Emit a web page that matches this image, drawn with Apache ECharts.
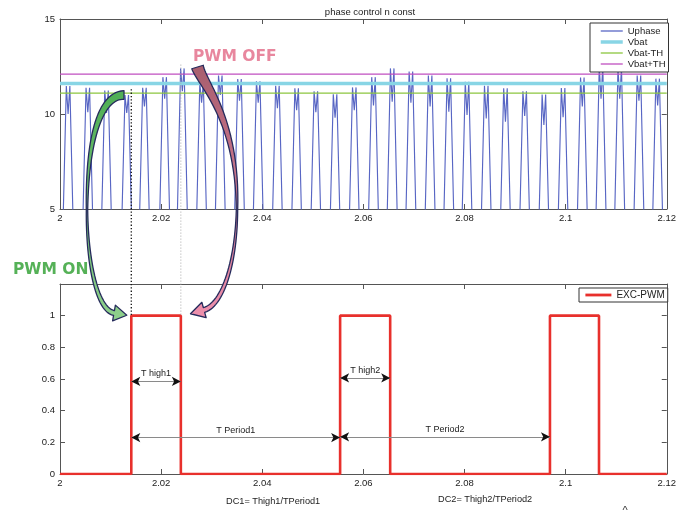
<!DOCTYPE html>
<html>
<head>
<meta charset="utf-8">
<script src="https://cdn.jsdelivr.net/npm/echarts@6/dist/echarts.min.js"></script>
<style>
  html, body { margin: 0; padding: 0; background: #fff; }
  #chart { width: 679px; height: 512px; }
</style>
</head>
<body>
<div id="chart"></div>
<script>
// ---- Phase voltage (Uphase): one double-humped pulse per commutation ----
const uCenter = [2.0016, 2.0055, 2.0092, 2.0132, 2.0167, 2.0207, 2.0242, 2.0280,
                 2.0317, 2.0355, 2.0392, 2.0430, 2.0468, 2.0506, 2.0544, 2.0582,
                 2.0620, 2.0657, 2.0694, 2.0732, 2.0769, 2.0805, 2.0843, 2.0881,
                 2.0919, 2.0957, 2.0995, 2.1033, 2.1070, 2.1107, 2.1145, 2.1182];
const uPeak   = [11.47, 11.38, 11.23, 11.00, 11.38, 11.94, 12.40, 11.63,
                 12.03, 11.84, 11.72, 11.49, 11.35, 11.20, 11.04, 11.40,
                 11.94, 12.40, 12.24, 12.03, 11.88, 11.70, 11.49, 11.35,
                 11.20, 11.03, 11.37, 11.92, 12.50, 12.40, 12.03, 11.86];
const uDip    = [10.00, 10.10, 10.05, 10.05, 10.40, 10.80, 11.20, 10.60,
                 11.00, 10.70, 10.60, 10.30, 10.20, 10.10,  9.80, 10.20,
                 10.45, 10.65, 10.60, 10.40, 10.12,  9.95,  9.77,  9.60,
                  9.90,  9.42,  9.83, 10.40, 10.80, 10.80, 10.70, 10.45];

// ---- Battery voltage and threshold band ----
const vbat = 11.6;
const th = 0.5;

// ---- Excitation PWM edges ----
const pwmRise = [2.0141, 2.0554, 2.0969];
const pwmFall = [2.0239, 2.0653, 2.1066];

// ---- Axis ranges ----
const xMin = 2, xMax = 2.12, xStep = 0.02;
const yTopMin = 5, yTopMax = 15, yTopStep = 5;
const yBotMin = 0, yBotMax = 1.2, yBotStep = 0.2;

// pulse shape: time from centre to foot and to each hump
const RISE = 0.00138, HUMP = 0.00035;

const uphaseData = [];
uCenter.forEach((c, i) => {
  uphaseData.push([c - RISE, 0], [c - HUMP, uPeak[i]], [c, uDip[i]],
                  [c + HUMP, uPeak[i]], [c + RISE, 0]);
});

const pwmData = [[xMin, 0]];
pwmRise.forEach((r, i) => {
  pwmData.push([r, 0], [r, 1], [pwmFall[i], 1], [pwmFall[i], 0]);
});
pwmData.push([xMax, 0]);

const FONT = 'Liberation Sans, Arial, sans-serif';
const AX = '#555';
const fmtX = v => String(+v.toFixed(2));

const C_U = '#5866c4', C_VBAT = '#88d5e5', C_LOW = '#8cc63f', C_HIGH = '#c04fc0', C_PWM = '#e8302c';
const W_VBAT = 3.5;

function xAxes(grid) {
  const base = {
    gridIndex: grid, type: 'value', min: xMin, max: xMax, interval: xStep,
    axisLine: { show: true, onZero: false, lineStyle: { color: AX, width: 1 } },
    axisTick: { show: true, inside: true, length: 5, lineStyle: { color: AX } },
    splitLine: { show: false }
  };
  return [
    Object.assign({}, base, { position: 'bottom',
      axisLabel: { fontSize: 9.5, color: '#222', fontFamily: FONT, margin: 4, formatter: fmtX } }),
    Object.assign({}, base, { position: 'top', axisLabel: { show: false } })
  ];
}
function yAxes(grid, min, max, step, fmt) {
  const base = {
    gridIndex: grid, type: 'value', min: min, max: max, interval: step,
    axisLine: { show: true, onZero: false, lineStyle: { color: AX, width: 1 } },
    axisTick: { show: true, inside: true, length: 5, lineStyle: { color: AX } },
    splitLine: { show: false }
  };
  return [
    Object.assign({}, base, { position: 'left',
      axisLabel: { fontSize: 9.5, color: '#222', fontFamily: FONT, margin: 5, formatter: fmt } }),
    Object.assign({}, base, { position: 'right', axisLabel: { show: false } })
  ];
}

// annotation arrows in the PWM panel
const spans = [
  { text: 'T high1',   x0: pwmRise[0], x1: pwmFall[0], y: 0.585 },
  { text: 'T Period1', x0: pwmRise[0], x1: pwmRise[1], y: 0.23 },
  { text: 'T high2',   x0: pwmRise[1], x1: pwmFall[1], y: 0.607 },
  { text: 'T Period2', x0: pwmRise[1], x1: pwmRise[2], y: 0.235 }
];
const spanLines = [];
spans.forEach(s => {
  spanLines.push([
    { coord: [s.x0, s.y], symbol: 'none', label: { show: true, formatter: s.text } },
    { coord: [s.x1, s.y], symbol: 'none' }
  ]);
  spanLines.push([
    { coord: [s.x0, s.y], lineStyle: { color: '#111', width: 0 }, label: { show: false } },
    { coord: [s.x1, s.y] }
  ]);
});

const flat = v => [[xMin, v], [xMax, v]];

// plain line samples in the legend boxes
const legendBase = {
  orient: 'vertical', itemGap: 1, itemHeight: 10,
  borderColor: '#333', borderWidth: 1, backgroundColor: '#fff',
  itemStyle: { opacity: 0, borderWidth: 0 },
  selectedMode: false
};

const chart = echarts.init(document.getElementById('chart'));
chart.setOption({
  animation: false,
  backgroundColor: '#fff',
  textStyle: { fontFamily: FONT },
  title: {
    text: 'phase control n const', left: 365, top: 2, textAlign: 'center',
    textStyle: { fontSize: 9.5, fontWeight: 'normal', color: '#222', fontFamily: FONT }
  },
  grid: [
    { left: 60, right: 9, top: 19, height: 190 },
    { left: 60, right: 9, top: 284, height: 190 }
  ],
  xAxis: xAxes(0).concat(xAxes(1)),
  yAxis: yAxes(0, yTopMin, yTopMax, yTopStep, v => String(v))
    .concat(yAxes(1, yBotMin, yBotMax, yBotStep, v => (v > 1.01 ? '' : String(+v.toFixed(1))))),
  legend: [
    Object.assign({}, legendBase, {
      data: [
        { name: 'Uphase', lineStyle: { width: 1.3 } },
        { name: 'Vbat', lineStyle: { width: W_VBAT } },
        { name: 'Vbat-TH', lineStyle: { width: 1.3 } },
        { name: 'Vbat+TH', lineStyle: { width: 1.3 } }
      ],
      left: 590, top: 23, itemWidth: 22,
      padding: [3, 3, 3, 9],
      textStyle: { fontSize: 9.5, color: '#222', fontFamily: FONT }
    }),
    Object.assign({}, legendBase, {
      data: [{ name: 'EXC-PWM', lineStyle: { width: 2.8 } }],
      left: 579, top: 288, itemWidth: 26,
      padding: [2, 3, 2, 5],
      textStyle: { fontSize: 10, color: '#222', fontFamily: FONT }
    })
  ],
  series: [
    { name: 'Uphase', type: 'line', xAxisIndex: 0, yAxisIndex: 0, data: uphaseData,
      symbol: 'none', lineStyle: { color: C_U, width: 1.15 }, itemStyle: { color: C_U },
      clip: true, silent: true, z: 2 },
    { name: 'Vbat', type: 'line', xAxisIndex: 0, yAxisIndex: 0, data: flat(vbat),
      symbol: 'none', lineStyle: { color: C_VBAT, width: W_VBAT }, itemStyle: { color: C_VBAT },
      silent: true, z: 3 },
    { name: 'Vbat-TH', type: 'line', xAxisIndex: 0, yAxisIndex: 0, data: flat(vbat - th),
      symbol: 'none', lineStyle: { color: C_LOW, width: 1.3 }, itemStyle: { color: C_LOW },
      silent: true, z: 3 },
    { name: 'Vbat+TH', type: 'line', xAxisIndex: 0, yAxisIndex: 0, data: flat(vbat + th),
      symbol: 'none', lineStyle: { color: C_HIGH, width: 1.3 }, itemStyle: { color: C_HIGH },
      silent: true, z: 3 },
    { name: 'EXC-PWM', type: 'line', xAxisIndex: 2, yAxisIndex: 2, data: pwmData,
      symbol: 'none', lineStyle: { color: C_PWM, width: 2.6 }, itemStyle: { color: C_PWM },
      silent: true, z: 3,
      markLine: {
        silent: true, animation: false,
        symbol: ['arrow', 'arrow'], symbolSize: [7, 9],
        lineStyle: { type: 'solid', color: '#8a8a8a', width: 1 },
        label: { show: true, position: 'middle', fontSize: 9, color: '#222',
                 fontFamily: FONT, distance: 3 },
        emphasis: { disabled: true },
        data: spanLines
      }
    }
  ]
});

// ---- overlays placed from data coordinates ----
const toTop = p => chart.convertToPixel({ gridIndex: 0 }, p);
const toBot = p => chart.convertToPixel({ gridIndex: 1 }, p);

function cubic(s, t) {
  const u = 1 - t;
  const a = u * u * u, b = 3 * u * u * t, c = 3 * u * t * t, d = t * t * t;
  return [a * s[0][0] + b * s[1][0] + c * s[2][0] + d * s[3][0],
          a * s[0][1] + b * s[1][1] + c * s[2][1] + d * s[3][1]];
}
function cubicTan(s, t) {
  const u = 1 - t;
  const dx = 3 * u * u * (s[1][0] - s[0][0]) + 6 * u * t * (s[2][0] - s[1][0]) + 3 * t * t * (s[3][0] - s[2][0]);
  const dy = 3 * u * u * (s[1][1] - s[0][1]) + 6 * u * t * (s[2][1] - s[1][1]) + 3 * t * t * (s[3][1] - s[2][1]);
  const l = Math.hypot(dx, dy) || 1;
  return [dx / l, dy / l];
}
// curved block arrow: tapered band along bezier segments ending in a head
function blockArrow(segs, widths, headHalf, headLen) {
  const left = [], right = [];
  const N = 30;
  segs.forEach((s, k) => {
    for (let i = (k === 0 ? 0 : 1); i <= N; i++) {
      const t = i / N;
      const p = cubic(s, t), d = cubicTan(s, t);
      const w = (widths[k][0] + (widths[k][1] - widths[k][0]) * t) / 2;
      const n = [-d[1], d[0]];
      left.push([p[0] + n[0] * w, p[1] + n[1] * w]);
      right.push([p[0] - n[0] * w, p[1] - n[1] * w]);
    }
  });
  const last = segs[segs.length - 1];
  const b = last[3], d = cubicTan(last, 1), n = [-d[1], d[0]];
  const head = [
    [b[0] + n[0] * headHalf, b[1] + n[1] * headHalf],
    [b[0] + d[0] * headLen, b[1] + d[1] * headLen],
    [b[0] - n[0] * headHalf, b[1] - n[1] * headHalf]
  ];
  return left.concat(head, right.reverse());
}

const rise1Top = toTop([pwmRise[0], 11.3]);
const fall1Top = toTop([pwmFall[0], 12.6]);
const rise1Bot = toBot([pwmRise[0], 1]);
const fall1Bot = toBot([pwmFall[0], 1]);

const greenPts = blockArrow(
  [[[124, 95], [100, 95], [87, 140], [87, 210]],
   [[87, 210], [87, 262], [97, 310], [114, 313]]],
  [[8.6, 1.4], [1.4, 5]], 8, 13);
const pinkPts = blockArrow(
  [[[197.5, 67], [203, 85], [238, 120], [237, 210]],
   [[237, 210], [236, 265], [222, 305], [204, 310]]],
  [[12, 1.4], [1.4, 5]], 8, 14);

chart.setOption({
  graphic: [
    { type: 'line', z: 50, silent: true,
      shape: { x1: rise1Top[0], y1: rise1Top[1], x2: rise1Bot[0], y2: rise1Bot[1] },
      style: { stroke: '#111', lineWidth: 1.3, lineDash: [1.3, 2] } },
    { type: 'line', z: 50, silent: true,
      shape: { x1: fall1Top[0], y1: fall1Top[1], x2: fall1Bot[0], y2: fall1Bot[1] },
      style: { stroke: '#a8a8a8', lineWidth: 1, lineDash: [1, 2] } },
    { type: 'polygon', z: 60, silent: true,
      shape: { points: greenPts },
      style: {
        fill: { type: 'linear', x: 0, y: 0, x2: 0, y2: 1,
                colorStops: [{ offset: 0, color: '#4fae55' }, { offset: 1, color: '#8fd08c' }] },
        stroke: '#262b5c', lineWidth: 1.3, lineJoin: 'round'
      } },
    { type: 'polygon', z: 60, silent: true,
      shape: { points: pinkPts },
      style: {
        fill: { type: 'linear', x: 0, y: 0, x2: 0, y2: 1,
                colorStops: [{ offset: 0, color: '#a85e6e' }, { offset: 1, color: '#ee90ad' }] },
        stroke: '#262b5c', lineWidth: 1.3, lineJoin: 'round'
      } },
    { type: 'text', z: 70, silent: true, x: 193, y: 57,
      style: { text: 'PWM OFF', fill: '#e8879e', font: 'bold 15.5px "DejaVu Sans"',
               align: 'left', verticalAlign: 'middle', textAlign: 'left', textVerticalAlign: 'middle' } },
    { type: 'text', z: 70, silent: true, x: 13, y: 270,
      style: { text: 'PWM ON', fill: '#55b157', font: 'bold 15.5px "DejaVu Sans"',
               align: 'left', verticalAlign: 'middle', textAlign: 'left', textVerticalAlign: 'middle' } },
    { type: 'text', z: 70, silent: true, x: 226, y: 501,
      style: { text: 'DC1= Thigh1/TPeriod1', fill: '#222', font: '9.2px ' + FONT,
               align: 'left', verticalAlign: 'middle', textAlign: 'left', textVerticalAlign: 'middle' } },
    { type: 'text', z: 70, silent: true, x: 438, y: 499,
      style: { text: 'DC2= Thigh2/TPeriod2', fill: '#222', font: '9.2px ' + FONT,
               align: 'left', verticalAlign: 'middle', textAlign: 'left', textVerticalAlign: 'middle' } },
    { type: 'text', z: 70, silent: true, x: 625, y: 505,
      style: { text: '^', fill: '#333', font: '11px ' + FONT,
               align: 'center', verticalAlign: 'top', textAlign: 'center', textVerticalAlign: 'top' } }
  ]
});
</script>
</body>
</html>
